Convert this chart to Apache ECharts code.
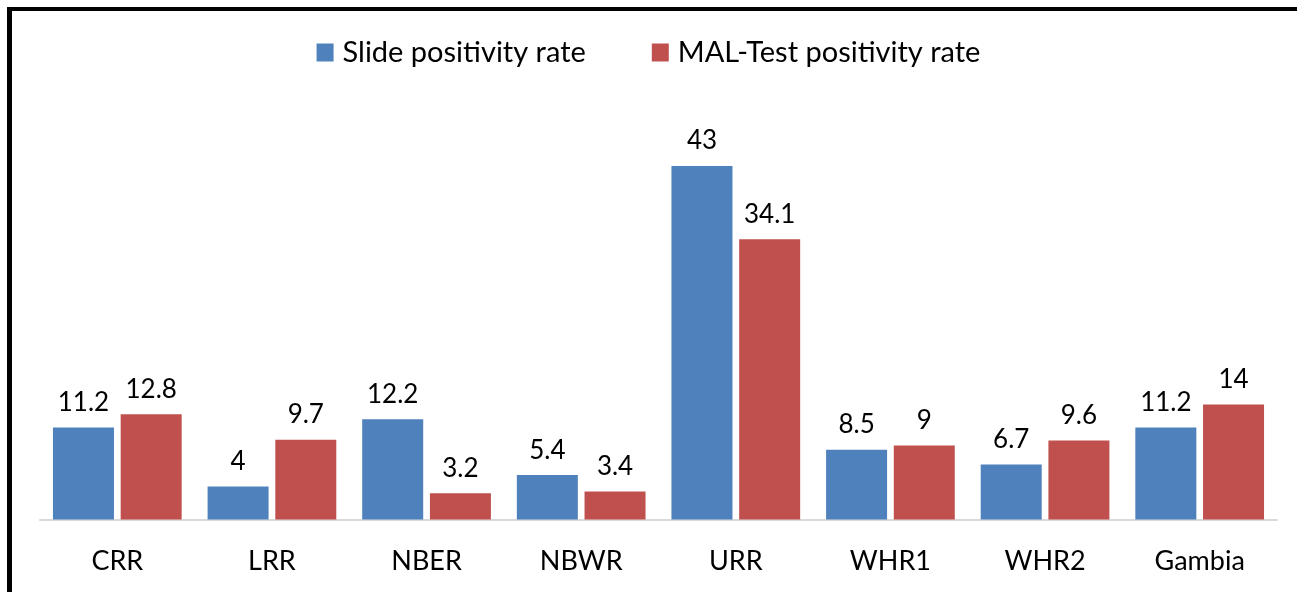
<!DOCTYPE html>
<html>
<head>
<meta charset="utf-8">
<script src="https://cdn.jsdelivr.net/npm/echarts@6/dist/echarts.min.js"></script>
<style>
  html, body { margin: 0; padding: 0; background: #fff; }
  #frame { position: absolute; left: 7px; top: 7px; width: 1300px; height: 600px;
           border-left: 5px solid #000; border-top: 4px solid #000; box-sizing: border-box; }
  #main { position: absolute; left: 0; top: 0; width: 1297px; height: 592px; }
</style>
</head>
<body>
<div id="frame"></div>
<div id="main"></div>
<script>
var categories = ['CRR', 'LRR', 'NBER', 'NBWR', 'URR', 'WHR1', 'WHR2', 'Gambia'];
var slideRate = [11.2, 4, 12.2, 5.4, 43, 8.5, 6.7, 11.2];
var malTestRate = [12.8, 9.7, 3.2, 3.4, 34.1, 9, 9.6, 14];

var dom = document.getElementById('main');
var myChart = echarts.init(dom);
var font = 'Lato, "Open Sans", sans-serif';

var option = {
    animation: false,
    textStyle: { fontFamily: font },
    legend: {
        top: 33,
        left: 'center',
        icon: 'rect',
        itemWidth: 17,
        itemHeight: 18,
        itemGap: 66,
        textStyle: { fontSize: 29, color: '#000', fontFamily: font, padding: [0, 0, 0, 4] },
        data: ['Slide positivity rate', 'MAL-Test positivity rate']
    },
    grid: { left: 40, right: 20, top: 108.5, bottom: 72.5 },
    xAxis: {
        type: 'category',
        data: categories,
        axisTick: { show: false },
        axisLine: { lineStyle: { color: '#d9d9d9', width: 2 } },
        axisLabel: { fontSize: 27, color: '#000', margin: 28, fontFamily: font }
    },
    yAxis: {
        type: 'value',
        min: 0,
        max: 50,
        show: false,
        splitLine: { show: false }
    },
    series: [
        {
            name: 'Slide positivity rate',
            type: 'bar',
            data: slideRate,
            barWidth: 61,
            barGap: '11%',
            itemStyle: { color: '#4f81bd' },
            label: { show: true, position: 'top', distance: 12, fontSize: 26, color: '#000', fontFamily: font }
        },
        {
            name: 'MAL-Test positivity rate',
            type: 'bar',
            data: malTestRate,
            barWidth: 61,
            itemStyle: { color: '#c0504d' },
            label: { show: true, position: 'top', distance: 12, fontSize: 26, color: '#000', fontFamily: font }
        }
    ]
};

if (option && typeof option === 'object') {
    myChart.setOption(option, true);
}
</script>
</body>
</html>
